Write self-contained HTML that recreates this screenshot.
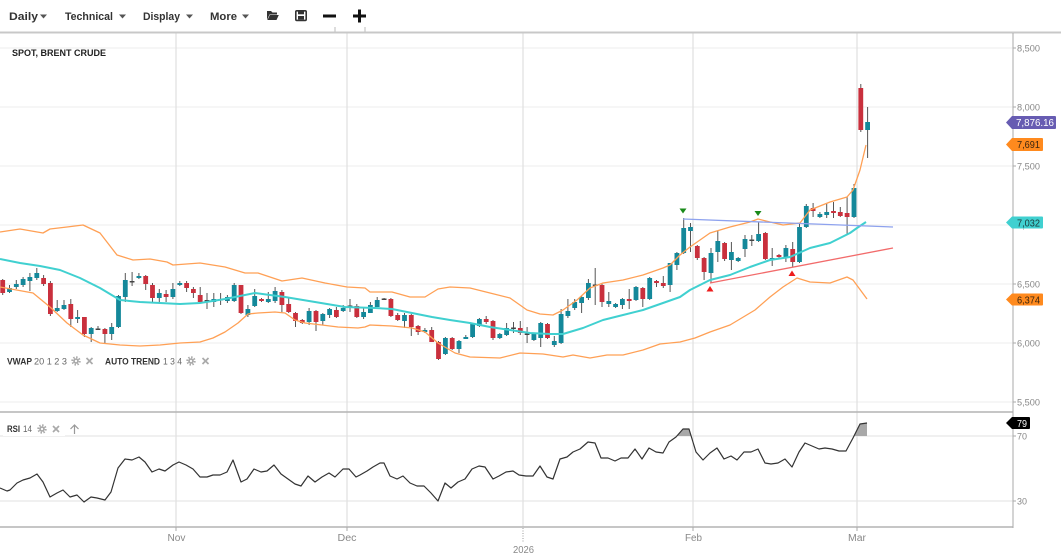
<!DOCTYPE html>
<html><head><meta charset="utf-8"><style>
body{margin:0;background:#fff}
svg{display:block}
text{font-family:"Liberation Sans",Arial,sans-serif}
</style></head><body>
<svg width="1061" height="554" viewBox="0 0 1061 554" xmlns="http://www.w3.org/2000/svg">
<rect width="1061" height="554" fill="#fff"/>
<g fill="#333" font-weight="bold" font-size="11">
<text x="9" y="20" textLength="29" lengthAdjust="spacingAndGlyphs">Daily</text>
<text x="65" y="20" textLength="48" lengthAdjust="spacingAndGlyphs">Technical</text>
<text x="143" y="20" textLength="37" lengthAdjust="spacingAndGlyphs">Display</text>
<text x="210" y="20" textLength="27" lengthAdjust="spacingAndGlyphs">More</text>
</g>
<g fill="#555">
<polygon points="40,14.5 47,14.5 43.5,18.5"/>
<polygon points="119,14.5 126,14.5 122.5,18.5"/>
<polygon points="186,14.5 193,14.5 189.5,18.5"/>
<polygon points="242,14.5 249,14.5 245.5,18.5"/>
</g>
<path d="M267 11h4l1.5 1.5h4.5v2h-7.5l-2.5 5.5z" fill="#333"/>
<path d="M269.8 15h9l-2.3 5h-9z" fill="#333"/>
<rect x="295.8" y="10.8" width="10.4" height="9.6" rx="1" fill="none" stroke="#333" stroke-width="1.6"/>
<rect x="298" y="10.5" width="6" height="3.8" fill="#333"/>
<rect x="298" y="16" width="6" height="3.5" fill="#333"/>
<rect x="323" y="14.5" width="13" height="3" fill="#111"/>
<rect x="353" y="14.5" width="13" height="3" fill="#111"/>
<rect x="358" y="9.5" width="3" height="13" fill="#111"/>
<line x1="335" y1="27" x2="335" y2="33" stroke="#bbb"/>
<line x1="365" y1="27" x2="365" y2="33" stroke="#bbb"/>
<g stroke="#ececec" stroke-width="1">
<line x1="0" y1="48" x2="1013" y2="48"/>
<line x1="0" y1="107" x2="1013" y2="107"/>
<line x1="0" y1="166" x2="1013" y2="166"/>
<line x1="0" y1="225" x2="1013" y2="225"/>
<line x1="0" y1="284" x2="1013" y2="284"/>
<line x1="0" y1="343" x2="1013" y2="343"/>
<line x1="0" y1="402" x2="1013" y2="402"/>
<line x1="0" y1="436" x2="1013" y2="436" stroke="#e2e2e2"/>
<line x1="0" y1="501" x2="1013" y2="501" stroke="#e2e2e2"/>
</g>
<g stroke="#e0e0e0" stroke-width="1.2">
<line x1="176" y1="33" x2="176" y2="527"/>
<line x1="347" y1="33" x2="347" y2="527"/>
<line x1="523" y1="33" x2="523" y2="527"/>
<line x1="693" y1="33" x2="693" y2="527"/>
<line x1="857" y1="33" x2="857" y2="527"/>
</g>
<line x1="0" y1="32.5" x2="1061" y2="32.5" stroke="#c8c8c8" stroke-width="2"/>
<line x1="0" y1="412" x2="1013" y2="412" stroke="#b4b4b4" stroke-width="1.5"/>
<line x1="0" y1="527" x2="1013" y2="527" stroke="#b4b4b4" stroke-width="1.5"/>
<line x1="1013" y1="33" x2="1013" y2="528" stroke="#aaa" stroke-width="1"/>
<text x="12" y="56" font-size="9" font-weight="bold" fill="#222" textLength="94" lengthAdjust="spacingAndGlyphs">SPOT, BRENT CRUDE</text>
<path fill="none" stroke="#555" stroke-width="1" d="M2.7 279V295M9.5 285V293M16.3 280V289M23.1 277V287M29.9 273V291M36.8 268V280M43.6 275V286M50.4 281V316M57.2 300V312M64 300V310M70.8 299V327M77.6 310V323M84.4 317V337M91.2 327V342M98 326V330M104.9 328V343M111.7 323V340M118.5 295V328M125.3 273V302M132.1 272V286M138.9 273V279M145.7 275V290M152.5 283V302M159.3 289V302M166.1 290V302M172.9 283V299M179.8 281V286M186.6 281V292M193.4 287V298M200.2 287V303M207 293V309M213.8 293V307M220.6 293V305M227.4 295V303M234.2 283V302M241 285V314M247.9 305V317M254.7 289V307M261.5 298V302M268.3 292V303M275.1 287V303M281.9 290V312M288.7 298V313M295.5 312V327M302.3 319V324M309.1 308V325M316 310V331M322.8 313V325M329.6 308V318M336.4 307V318M343.2 305V312M350 299V312M356.8 304V318M363.6 307V319M370.4 302V313M377.2 297V307M384.1 298V300M390.9 298V317M397.7 313V321M404.5 313V328M411.3 314V336M418.1 325V335M424.9 328V333M431.7 327V342M438.5 341V360M445.4 337V355M452.2 337V350M459 340V353M465.8 335V339M472.6 323V338M479.4 318V327M486.2 316V324M493 320V340M499.8 333V339M506.6 323V336M513.5 322V333M520.3 321V335M527.1 327V343M533.9 333V341M540.7 322V347M547.5 323V339M554.3 336V347M561.1 309V344M567.9 299V318M574.7 299V310M581.6 296V313M588.4 279V300M595.2 268V305M602 284V307M608.8 292V307M615.6 303V308M622.4 298V309M629.2 289V309M636 286V301M642.8 287V307M649.7 277V300M656.5 280V287M663.3 276V288M670.1 263V292M676.9 252V270M683.7 218V254M690.5 223V252M697.3 245V260M704.1 257V280M711 248V283M717.8 231V262M724.6 242V261M731.4 242V270M738.2 257V262M745 235V257M751.8 235V246M758.6 222V242M765.4 232V260M772.2 248V266M779 254V258M785.9 245V262M792.7 242V267M799.5 223V263M806.3 204V228M813.1 203V217M819.9 212V218M826.7 203V218M833.5 202V218M840.3 207V217M847.1 197V235M854 184V218M860.8 84V132M867.6 107V158"/>
<g fill="#14889a">
<rect x="7.1" y="288" width="4.8" height="4"/>
<rect x="13.9" y="284" width="4.8" height="3"/>
<rect x="20.7" y="279" width="4.8" height="6"/>
<rect x="27.5" y="277" width="4.8" height="4"/>
<rect x="34.4" y="273" width="4.8" height="5"/>
<rect x="54.8" y="308" width="4.8" height="3"/>
<rect x="61.6" y="305" width="4.8" height="4"/>
<rect x="75.2" y="317" width="4.8" height="2"/>
<rect x="88.8" y="328" width="4.8" height="6"/>
<rect x="109.3" y="327" width="4.8" height="7"/>
<rect x="116.1" y="296" width="4.8" height="31"/>
<rect x="122.9" y="280" width="4.8" height="17"/>
<rect x="136.5" y="276" width="4.8" height="2"/>
<rect x="156.9" y="293" width="4.8" height="5"/>
<rect x="170.5" y="289" width="4.8" height="8"/>
<rect x="177.4" y="283" width="4.8" height="2"/>
<rect x="211.4" y="299" width="4.8" height="3"/>
<rect x="225" y="297" width="4.8" height="4"/>
<rect x="231.8" y="285" width="4.8" height="16"/>
<rect x="245.5" y="309" width="4.8" height="6"/>
<rect x="252.3" y="296" width="4.8" height="10"/>
<rect x="265.9" y="299" width="4.8" height="3"/>
<rect x="272.7" y="291" width="4.8" height="10"/>
<rect x="306.7" y="311" width="4.8" height="11"/>
<rect x="320.4" y="314" width="4.8" height="7"/>
<rect x="327.2" y="309" width="4.8" height="6"/>
<rect x="340.8" y="308" width="4.8" height="3"/>
<rect x="361.2" y="312" width="4.8" height="5"/>
<rect x="368" y="305" width="4.8" height="8"/>
<rect x="374.8" y="300" width="4.8" height="7"/>
<rect x="402.1" y="315" width="4.8" height="6"/>
<rect x="422.5" y="330" width="4.8" height="2"/>
<rect x="443" y="338" width="4.8" height="16"/>
<rect x="456.6" y="341" width="4.8" height="8"/>
<rect x="463.4" y="337" width="4.8" height="2"/>
<rect x="470.2" y="324" width="4.8" height="13"/>
<rect x="477" y="319" width="4.8" height="7"/>
<rect x="497.4" y="334" width="4.8" height="4"/>
<rect x="504.2" y="328" width="4.8" height="7"/>
<rect x="531.5" y="334" width="4.8" height="6"/>
<rect x="538.3" y="323" width="4.8" height="15"/>
<rect x="551.9" y="341" width="4.8" height="4"/>
<rect x="558.7" y="314" width="4.8" height="29"/>
<rect x="565.5" y="311" width="4.8" height="5"/>
<rect x="572.3" y="302" width="4.8" height="6"/>
<rect x="579.2" y="297" width="4.8" height="6"/>
<rect x="586" y="283" width="4.8" height="15"/>
<rect x="606.4" y="301" width="4.8" height="3"/>
<rect x="613.2" y="304" width="4.8" height="3"/>
<rect x="620" y="299" width="4.8" height="6"/>
<rect x="633.6" y="287" width="4.8" height="13"/>
<rect x="647.3" y="278" width="4.8" height="21"/>
<rect x="667.7" y="263" width="4.8" height="22"/>
<rect x="674.5" y="253" width="4.8" height="12"/>
<rect x="681.3" y="228" width="4.8" height="25"/>
<rect x="688.1" y="227" width="4.8" height="4"/>
<rect x="708.6" y="253" width="4.8" height="20"/>
<rect x="715.4" y="241" width="4.8" height="11"/>
<rect x="729" y="252" width="4.8" height="8"/>
<rect x="735.8" y="258" width="4.8" height="3"/>
<rect x="742.6" y="239" width="4.8" height="10"/>
<rect x="756.2" y="234" width="4.8" height="7"/>
<rect x="769.8" y="258" width="4.8" height="1.5"/>
<rect x="783.5" y="248" width="4.8" height="9"/>
<rect x="797.1" y="227" width="4.8" height="35"/>
<rect x="803.9" y="206" width="4.8" height="21"/>
<rect x="817.5" y="214" width="4.8" height="3"/>
<rect x="824.3" y="212" width="4.8" height="3"/>
<rect x="851.6" y="188" width="4.8" height="29"/>
<rect x="865.2" y="122" width="4.8" height="8"/>
</g>
<g fill="#c9303d">
<rect x="0.3" y="280" width="4.8" height="13"/>
<rect x="41.2" y="278" width="4.8" height="6"/>
<rect x="48" y="283" width="4.8" height="31"/>
<rect x="68.4" y="304" width="4.8" height="15"/>
<rect x="82" y="317" width="4.8" height="17"/>
<rect x="102.5" y="329" width="4.8" height="5"/>
<rect x="143.3" y="276" width="4.8" height="8"/>
<rect x="150.1" y="285" width="4.8" height="13"/>
<rect x="163.7" y="294" width="4.8" height="3"/>
<rect x="184.2" y="283" width="4.8" height="5"/>
<rect x="191" y="289" width="4.8" height="4"/>
<rect x="197.8" y="295" width="4.8" height="7"/>
<rect x="238.6" y="285" width="4.8" height="28"/>
<rect x="259.1" y="299" width="4.8" height="2"/>
<rect x="279.5" y="292" width="4.8" height="13"/>
<rect x="286.3" y="304" width="4.8" height="8"/>
<rect x="293.1" y="313" width="4.8" height="8"/>
<rect x="299.9" y="320" width="4.8" height="3"/>
<rect x="313.6" y="311" width="4.8" height="11"/>
<rect x="334" y="310" width="4.8" height="7"/>
<rect x="354.4" y="306" width="4.8" height="11"/>
<rect x="388.5" y="299" width="4.8" height="17"/>
<rect x="395.3" y="315" width="4.8" height="5"/>
<rect x="408.9" y="315" width="4.8" height="12"/>
<rect x="415.7" y="326" width="4.8" height="6"/>
<rect x="429.3" y="330" width="4.8" height="12"/>
<rect x="436.1" y="342" width="4.8" height="17"/>
<rect x="449.8" y="338" width="4.8" height="11"/>
<rect x="483.8" y="319" width="4.8" height="3"/>
<rect x="490.6" y="321" width="4.8" height="17"/>
<rect x="517.9" y="328" width="4.8" height="5"/>
<rect x="545.1" y="324" width="4.8" height="14"/>
<rect x="599.6" y="285" width="4.8" height="17"/>
<rect x="626.8" y="299" width="4.8" height="2"/>
<rect x="640.4" y="288" width="4.8" height="11"/>
<rect x="654.1" y="281" width="4.8" height="2"/>
<rect x="660.9" y="283" width="4.8" height="3"/>
<rect x="694.9" y="246" width="4.8" height="12"/>
<rect x="701.7" y="258" width="4.8" height="14"/>
<rect x="722.2" y="243" width="4.8" height="16"/>
<rect x="763" y="233" width="4.8" height="26"/>
<rect x="776.6" y="255" width="4.8" height="2"/>
<rect x="790.3" y="249" width="4.8" height="13"/>
<rect x="810.7" y="208" width="4.8" height="3"/>
<rect x="831.1" y="211" width="4.8" height="2"/>
<rect x="837.9" y="212" width="4.8" height="4"/>
<rect x="844.7" y="213" width="4.8" height="4"/>
<rect x="858.4" y="88" width="4.8" height="42"/>
</g>
<g fill="#444">
<rect x="95.6" y="328.5" width="4.8" height="1.5"/>
<rect x="129.7" y="281" width="4.8" height="1.5"/>
<rect x="204.6" y="300" width="4.8" height="1.5"/>
<rect x="218.2" y="299" width="4.8" height="1.5"/>
<rect x="347.6" y="305.5" width="4.8" height="1.5"/>
<rect x="381.7" y="298.5" width="4.8" height="1.5"/>
<rect x="511.1" y="327.5" width="4.8" height="1.5"/>
<rect x="524.7" y="333.5" width="4.8" height="1.5"/>
<rect x="592.8" y="284.5" width="4.8" height="1.5"/>
<rect x="749.4" y="239.5" width="4.8" height="1.5"/>
</g>
<g fill="none" stroke="#ffa055" stroke-width="1.3" stroke-linejoin="round">
<polyline points="0,232 20,229 43,233 50,229 67,227 83,225 100,233 117,255 133,260 150,259 167,262 173,265 200,263 225,267 245,273 258,273 282,281 302,278 325,283 347,287 365,288 370,292 392,292 410,297 425,297 438,289 450,287 470,288 490,293 510,298 527,310 540,314 553,315 563,310 577,300 590,288 603,283 623,280 643,275 663,268 670,265 680,255 690,247 710,233 730,227 750,222 758,219 770,222 783,225 800,223 810,210 830,202 847,197 853,190 860,170 866,145"/>
<polyline points="0,287 33,293 50,307 67,323 83,335 100,343 120,345 140,346 160,345 180,343 200,342 213,338 225,332 238,323 248,314 258,313 275,312 285,313 295,320 305,323 322,325 338,327 358,328 365,327 370,325 392,326 412,328 425,332 438,343 455,353 470,357 500,358 520,353 543,354 563,357 573,355 590,358 607,355 623,355 643,350 660,344 680,342 695,338 710,332 730,325 745,316 755,310 770,297 783,287 797,278 810,282 830,283 847,277 853,280 867,299"/>
</g>
<polyline fill="none" stroke="#40d0d0" stroke-width="2" stroke-linejoin="round" points="0,259 20,263 40,266 60,270 80,278 100,288 120,300 140,302 160,303 180,304 200,303 225,299 255,293 285,297 315,302 345,307 375,308 392,309 412,313 432,317 450,320 470,323 490,327 510,330 530,333 550,334 563,334 583,328 603,320 623,315 643,310 663,303 680,297 690,290 710,280 730,275 750,267 770,260 790,257 810,248 830,243 850,233 857,228 866,222"/>
<line x1="683" y1="219" x2="893" y2="227" stroke="#8ea2ee" stroke-width="1.3"/>
<line x1="710" y1="283" x2="893" y2="248" stroke="#f26b6b" stroke-width="1.3"/>
<polygon points="679.5,208.5 686.5,208.5 683,213.5" fill="#1a8a1a"/>
<polygon points="754.5,211 761.5,211 758,216" fill="#1a8a1a"/>
<polygon points="706.5,291.5 713.5,291.5 710,286" fill="#ee1c1c"/>
<polygon points="788.5,276 795.5,276 792,270.5" fill="#ee1c1c"/>
<text x="7" y="364.5" font-size="9" font-weight="bold" fill="#333" textLength="25" lengthAdjust="spacingAndGlyphs">VWAP</text>
<text x="34" y="364.5" font-size="9.5" fill="#666" textLength="33" lengthAdjust="spacingAndGlyphs">20 1 2 3</text>
<g transform="translate(76,361)"><circle r="3.7" fill="none" stroke="#aaa" stroke-width="2" stroke-dasharray="1.5 1.4"/><circle r="2.8" fill="#aaa"/><circle r="1.1" fill="#fff"/></g>
<path d="M86.5 358l6 6M92.5 358l-6 6" stroke="#aaa" stroke-width="1.7"/>
<text x="105" y="364.5" font-size="9" font-weight="bold" fill="#333" textLength="55" lengthAdjust="spacingAndGlyphs">AUTO TREND</text>
<text x="163" y="364.5" font-size="9.5" fill="#666" textLength="19" lengthAdjust="spacingAndGlyphs">1 3 4</text>
<g transform="translate(191,361)"><circle r="3.7" fill="none" stroke="#aaa" stroke-width="2" stroke-dasharray="1.5 1.4"/><circle r="2.8" fill="#aaa"/><circle r="1.1" fill="#fff"/></g>
<path d="M202.5 358l6 6M208.5 358l-6 6" stroke="#aaa" stroke-width="1.7"/>
<polygon points="677,436 683,429 689,429 691,436" fill="#a8a8a8"/>
<polygon points="854,436 860,424 867,423 867,436" fill="#a8a8a8"/>
<polyline fill="none" stroke="#333" stroke-width="1.2" stroke-linejoin="round" points="0,488 7,491 10,490 17,483 23,480 30,478 37,474 43,482 50,497 57,493 63,490 70,497 77,495 84,502 91,497 97,498 105,500 111,492 118,468 125,459 132,460 139,457 145,462 152,472 159,469 165,471 173,465 179,462 186,465 193,469 200,477 207,477 213,475 220,475 227,472 233,460 241,482 247,479 254,469 261,472 267,471 274,465 281,474 288,479 295,484 301,486 308,476 315,482 322,477 329,473 335,477 343,469 349,469 356,477 360,475 367,471 373,467 380,463 384,463 390,476 397,479 403,476 410,483 417,486 424,486 431,493 438,501 445,483 451,488 458,482 465,479 472,469 479,466 485,467 493,479 499,476 506,472 513,471 519,475 526,476 533,476 540,466 547,477 553,479 560,459 567,457 573,452 580,449 588,442 595,443 601,458 608,458 615,461 621,458 628,458 635,449 642,459 649,448 656,452 663,453 669,442 676,437 683,429 689,429 696,452 703,460 710,453 717,448 724,459 731,456 737,460 744,452 751,452 758,449 765,463 771,464 778,463 785,459 792,467 799,452 805,443 812,446 819,449 825,448 832,449 839,451 846,451 853,438 860,424 867,423"/>
<rect x="3" y="422" width="62" height="14" fill="#fff"/>
<text x="7" y="432" font-size="9" font-weight="bold" fill="#333" textLength="13" lengthAdjust="spacingAndGlyphs">RSI</text>
<text x="23" y="432" font-size="9.5" fill="#666" textLength="9" lengthAdjust="spacingAndGlyphs">14</text>
<g transform="translate(42,429)"><circle r="3.7" fill="none" stroke="#aaa" stroke-width="2" stroke-dasharray="1.5 1.4"/><circle r="2.8" fill="#aaa"/><circle r="1.1" fill="#fff"/></g>
<path d="M53 426l6 6M59 426l-6 6" stroke="#aaa" stroke-width="1.7"/>
<path d="M74.5 434V425M70.5 429l4-4 4 4" fill="none" stroke="#999" stroke-width="1.2"/>
<g stroke="#aaa"><line x1="1013" y1="48" x2="1016" y2="48"/><line x1="1013" y1="107" x2="1016" y2="107"/><line x1="1013" y1="166" x2="1016" y2="166"/><line x1="1013" y1="284" x2="1016" y2="284"/><line x1="1013" y1="343" x2="1016" y2="343"/><line x1="1013" y1="402" x2="1016" y2="402"/><line x1="1013" y1="436" x2="1016" y2="436"/><line x1="1013" y1="501" x2="1016" y2="501"/></g>
<g font-size="9.5" fill="#888">
<text x="1017" y="51.5" textLength="23" lengthAdjust="spacingAndGlyphs">8,500</text>
<text x="1017" y="110.5" textLength="23" lengthAdjust="spacingAndGlyphs">8,000</text>
<text x="1017" y="169.5" textLength="23" lengthAdjust="spacingAndGlyphs">7,500</text>
<text x="1017" y="228.5" textLength="23" lengthAdjust="spacingAndGlyphs">7,000</text>
<text x="1017" y="287.5" textLength="23" lengthAdjust="spacingAndGlyphs">6,500</text>
<text x="1017" y="346.5" textLength="23" lengthAdjust="spacingAndGlyphs">6,000</text>
<text x="1017" y="405.5" textLength="23" lengthAdjust="spacingAndGlyphs">5,500</text>
<text x="1017" y="439.5" textLength="10" lengthAdjust="spacingAndGlyphs">70</text>
<text x="1017" y="504.5" textLength="10" lengthAdjust="spacingAndGlyphs">30</text>
</g>
<path d="M1006 122.5L1012 116H1055a1 1 0 0 1 1 1V128a1 1 0 0 1-1 1H1012z" fill="#675cb2"/>
<text x="1016" y="126" font-size="10" fill="#fff" textLength="38" lengthAdjust="spacingAndGlyphs">7,876.16</text>
<path d="M1006 144.5L1012 138H1042a1 1 0 0 1 1 1V150a1 1 0 0 1-1 1H1012z" fill="#ff8a1e"/>
<text x="1017" y="148" font-size="10" fill="#3a2510" textLength="23" lengthAdjust="spacingAndGlyphs">7,691</text>
<path d="M1006 222.5L1012 216.5H1042a1 1 0 0 1 1 1V227.5a1 1 0 0 1-1 1H1012z" fill="#40d0d0"/>
<text x="1017" y="226.3" font-size="10" fill="#1b3a3a" textLength="23" lengthAdjust="spacingAndGlyphs">7,032</text>
<path d="M1006 299.5L1012 293.5H1042a1 1 0 0 1 1 1V304.5a1 1 0 0 1-1 1H1012z" fill="#ff8a1e"/>
<text x="1017" y="303.3" font-size="10" fill="#3a2510" textLength="23" lengthAdjust="spacingAndGlyphs">6,374</text>
<path d="M1006 423L1012 417H1029a1 1 0 0 1 1 1V428a1 1 0 0 1-1 1H1012z" fill="#000"/>
<text x="1017" y="426.8" font-size="10" fill="#fff" textLength="10" lengthAdjust="spacingAndGlyphs">79</text>
<g stroke="#aaa"><line x1="176" y1="527" x2="176" y2="531"/><line x1="347" y1="527" x2="347" y2="531"/><line x1="693" y1="527" x2="693" y2="531"/><line x1="857" y1="527" x2="857" y2="531"/></g>
<line x1="523" y1="528" x2="523" y2="543" stroke="#999" stroke-dasharray="1 1.5"/>
<g font-size="10" fill="#888">
<text x="167.5" y="541" textLength="18" lengthAdjust="spacingAndGlyphs">Nov</text>
<text x="337.5" y="541" textLength="19" lengthAdjust="spacingAndGlyphs">Dec</text>
<text x="685" y="541" textLength="17" lengthAdjust="spacingAndGlyphs">Feb</text>
<text x="848" y="541" textLength="18" lengthAdjust="spacingAndGlyphs">Mar</text>
<text x="513" y="553" textLength="21" lengthAdjust="spacingAndGlyphs">2026</text>
</g>
</svg>
</body></html>
